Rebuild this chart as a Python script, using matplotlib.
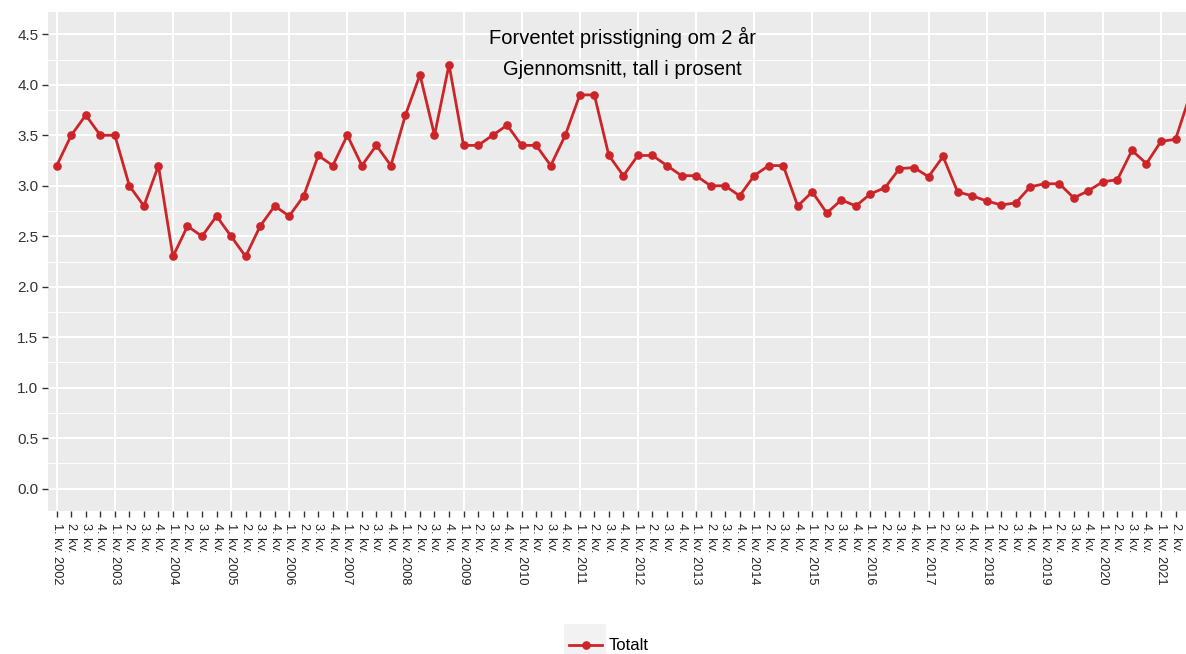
import matplotlib
matplotlib.use('Agg')
import matplotlib.pyplot as plt
from matplotlib.patches import Rectangle
from matplotlib.lines import Line2D
import numpy as np

plt.rcParams['font.family'] = ['Liberation Sans', 'DejaVu Sans']

years = list(range(2002, 2022))
quarters = [(y, q) for y in years for q in range(1, 5)][:79]

totalt = [
    3.2, 3.5, 3.7, 3.5,      # 2002
    3.5, 3.0, 2.8, 3.2,      # 2003
    2.3, 2.6, 2.5, 2.7,      # 2004
    2.5, 2.3, 2.6, 2.8,      # 2005
    2.7, 2.9, 3.3, 3.2,      # 2006
    3.5, 3.2, 3.4, 3.2,      # 2007
    3.7, 4.1, 3.5, 4.2,      # 2008
    3.4, 3.4, 3.5, 3.6,      # 2009
    3.4, 3.4, 3.2, 3.5,      # 2010
    3.9, 3.9, 3.3, 3.1,      # 2011
    3.3, 3.3, 3.2, 3.1,      # 2012
    3.1, 3.0, 3.0, 2.9,      # 2013
    3.1, 3.2, 3.2, 2.8,      # 2014
    2.94, 2.73, 2.86, 2.80,  # 2015
    2.92, 2.98, 3.17, 3.18,  # 2016
    3.09, 3.29, 2.94, 2.90,  # 2017
    2.85, 2.81, 2.83, 2.99,  # 2018
    3.02, 3.02, 2.88, 2.95,  # 2019
    3.04, 3.06, 3.35, 3.22,  # 2020
    3.44, 3.46, 3.90,        # 2021
]

tick_labels = [f'{q}. kv. {y}' if q == 1 else f'{q}. kv.' for y, q in quarters]
title_lines = ['Forventet prisstigning om 2 år', 'Gjennomsnitt, tall i prosent']

red = '#CC2529'
panel = '#EBEBEB'
axis_txt = '#333333'

W, H = 1186, 654
fig = plt.figure(figsize=(W / 100, H / 100), dpi=100)
# panel runs past the right edge, like the cropped original
ax = fig.add_axes([48 / W, 1 - 510.7 / H, 79.2 * 14.53 / W, 499 / H])
ax.set_facecolor(panel)
for s in ax.spines.values():
    s.set_visible(False)

x = np.arange(len(totalt))
ax.set_xlim(-0.6, len(totalt) - 1 + 0.6)
ax.set_ylim(-0.218, 4.724)

# grid
for v in np.arange(0.25, 4.75, 0.5):
    ax.axhline(v, color='white', lw=0.7, zorder=0)
for v in np.arange(0, 4.75, 0.5):
    ax.axhline(v, color='white', lw=1.5, zorder=0)
for i in x[::4]:
    ax.axvline(i, color='white', lw=1.5, zorder=0)

ax.plot(x, totalt, color=red, lw=2, marker='o', ms=5.2, zorder=3)

ax.set_yticks(np.arange(0, 4.6, 0.5))
ax.set_yticklabels([f'{v:.1f}' for v in np.arange(0, 4.6, 0.5)])
ax.set_xticks(x)
ax.set_xticklabels(tick_labels, rotation=270, ha='center', va='top')
ax.tick_params(axis='y', length=4, width=1, color='#333333', labelsize=11, labelcolor=axis_txt, pad=3)
ax.tick_params(axis='x', length=4, width=1, color='#333333', labelsize=9.2, labelcolor='#222222', pad=5)

ax.text(0.499, 0.949, title_lines[0], transform=ax.transAxes, ha='center', va='center', fontsize=14.5, color='black')
ax.text(0.499, 0.885, title_lines[1], transform=ax.transAxes, ha='center', va='center', fontsize=14.5, color='black')

# legend (partly cut at the bottom, as in the reference)
fig.add_artist(Rectangle((564 / W, 0), 42 / W, 30 / H, transform=fig.transFigure,
                         facecolor='#F2F2F2', edgecolor='none'))
fig.add_artist(Line2D([569 / W, 602 / W], [1 - 645 / H] * 2, transform=fig.transFigure,
                      color=red, lw=2))
fig.add_artist(Line2D([585.5 / W], [1 - 645 / H], transform=fig.transFigure,
                      color=red, marker='o', ms=5.2))
fig.text(609 / W, 1 - 645 / H, 'Totalt', ha='left', va='center', fontsize=12, color='black')

fig.savefig('out.png', dpi=100)
